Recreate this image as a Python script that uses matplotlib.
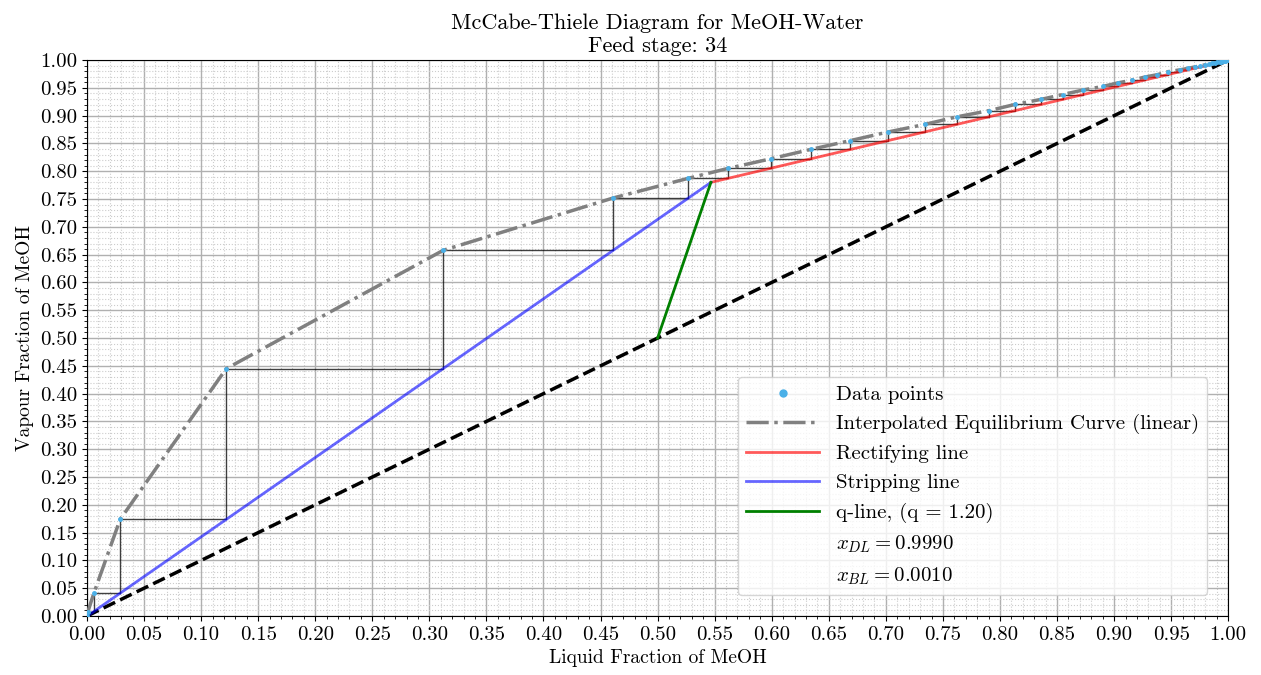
import matplotlib
matplotlib.use("Agg")
import matplotlib.pyplot as plt
import numpy as np
from matplotlib.ticker import MultipleLocator, FormatStrFormatter

plt.rcParams['font.family'] = 'serif'
plt.rcParams['font.serif'] = ['cmr10']
plt.rcParams['mathtext.fontset'] = 'cm'
plt.rcParams['axes.formatter.use_mathtext'] = True

# column specs
xD = 0.999
xB = 0.001
zF = 0.5
q = 1.20
feed_stage = 34
x_int, y_int = 0.5467, 0.780   # where the operating lines meet

# stage corners on the equilibrium curve, top of column downwards
stage_x = [0.9976, 0.9969, 0.9961, 0.9951, 0.9939, 0.9924, 0.9906, 0.9885,
           0.9860, 0.9830, 0.9795, 0.9754, 0.9706, 0.9650, 0.9580, 0.947,
           0.938, 0.927, 0.916, 0.903, 0.890, 0.873, 0.855, 0.836, 0.813,
           0.790, 0.762, 0.734, 0.702, 0.669, 0.634, 0.599, 0.562, 0.527,
           0.461, 0.312, 0.122, 0.029, 0.006, 0.0008]
stage_y = [0.9990, 0.9983, 0.9980, 0.9976, 0.9971, 0.9965, 0.9958, 0.9949,
           0.9939, 0.9927, 0.9913, 0.9896, 0.9876, 0.9852, 0.9825, 0.9791,
           0.9738, 0.9695, 0.9641, 0.9588, 0.9525, 0.9462, 0.9380, 0.9293,
           0.9201, 0.9089, 0.8978, 0.8842, 0.8707, 0.8552, 0.8392, 0.8223,
           0.8053, 0.7874, 0.7519, 0.6577, 0.4449, 0.1737, 0.0410, 0.0081]

# equilibrium data points (sorted)
data_x = [0.0] + stage_x[::-1] + [1.0]
data_y = [0.0] + stage_y[::-1] + [1.0]

fig = plt.figure(figsize=(12.61, 6.75), dpi=100)
ax = fig.add_axes([0.069, 0.0874, 0.905, 0.8236])

# stairs
sx = [xD]
sy = [xD]
for i in range(len(stage_x)):
    sx.append(stage_x[i])
    sy.append(stage_y[i])
    nxt = stage_y[i + 1] if i + 1 < len(stage_y) else stage_x[i]
    sx.append(stage_x[i])
    sy.append(nxt)
ax.plot(sx, sy, color='black', lw=1.0, alpha=0.75, zorder=2)

ax.plot(data_x, data_y, 'o', color='#4ab0e8', ms=2.5, label='Data points', zorder=5)
ax.plot(data_x, data_y, color='gray', lw=2.5, ls='-.', label='Interpolated Equilibrium Curve (linear)', zorder=3)
ax.plot([x_int, xD], [y_int, xD], color='red', alpha=0.65, lw=2, label='Rectifying line', zorder=4)
ax.plot([xB, x_int], [xB, y_int], color='blue', alpha=0.6, lw=2, label='Stripping line', zorder=4)
ax.plot([zF, x_int], [zF, y_int], color='green', lw=2, label='q-line, (q = %.2f)' % q, zorder=4)
ax.plot([0, 1], [0, 1], color='black', lw=2.5, ls='--', zorder=3)
ax.plot([], [], ' ', label=r'$x_{DL} = %.4f$' % xD)
ax.plot([], [], ' ', label=r'$x_{BL} = %.4f$' % xB)

ax.set_xlim(0, 1)
ax.set_ylim(0, 1)
ax.xaxis.set_major_locator(MultipleLocator(0.05))
ax.yaxis.set_major_locator(MultipleLocator(0.05))
ax.xaxis.set_minor_locator(MultipleLocator(0.01))
ax.yaxis.set_minor_locator(MultipleLocator(0.01))
ax.xaxis.set_major_formatter(FormatStrFormatter('%.2f'))
ax.yaxis.set_major_formatter(FormatStrFormatter('%.2f'))
ax.tick_params(labelsize=15)
ax.grid(which='major', color='#b0b0b0', lw=1)
ax.grid(which='minor', color='#cccccc', ls=':', lw=0.8)

ax.set_title('McCabe-Thiele Diagram for MeOH-Water\nFeed stage: %d' % feed_stage, fontsize=16)
ax.set_xlabel('Liquid Fraction of MeOH', fontsize=14)
ax.set_ylabel('Vapour Fraction of MeOH', fontsize=14)
ax.legend(loc='lower right', fontsize=15, markerscale=2, handlelength=3.5,
          borderaxespad=1.0)

fig.savefig('out.png', dpi=100)
